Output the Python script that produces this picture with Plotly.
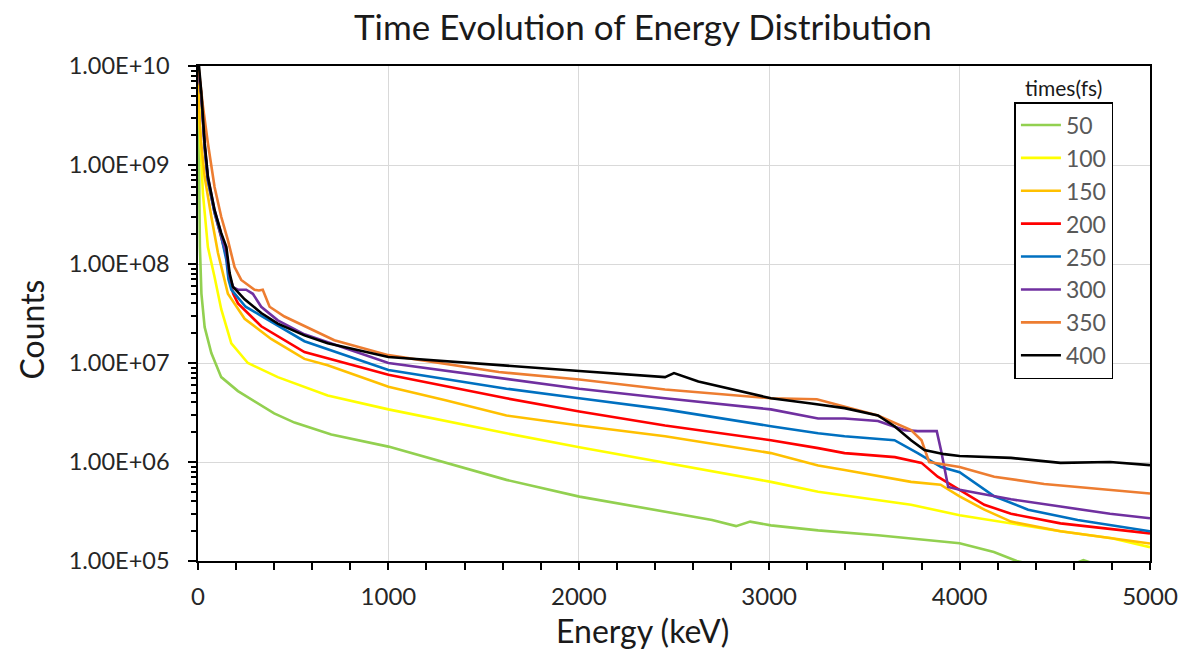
import plotly.graph_objects as go

# ---- data (energy in keV, counts) ----
e50 = [0, 2, 5, 10, 18, 35, 70, 122, 210, 300, 400, 507, 700, 1000, 1300, 1620, 2003, 2453, 2700, 2826, 2900, 3009, 3257, 3571, 4000, 4180, 4300, 4400, 4550, 4650, 4750, 5000]
c50 = [1e10, 3e9, 6e8, 1.5e8, 5e7, 2.3e7, 1.26e7, 7.2e6, 5.2e6, 4.1e6, 3.1e6, 2.5e6, 1.9e6, 1.43e6, 9.8e5, 6.6e5, 4.47e5, 3.16e5, 2.6e5, 2.25e5, 2.5e5, 2.29e5, 2.04e5, 1.82e5, 1.51e5, 1.23e5, 1.0e5, 9e4, 8.5e4, 1.02e5, 8.8e4, 7.5e4]

e100 = [0, 3, 9, 26, 52, 87, 122, 175, 262, 419, 559, 681, 1000, 1300, 1620, 2003, 2453, 3009, 3257, 3396, 3745, 4000, 4270, 4530, 4800, 5000]
c100 = [1e10, 5e9, 2.5e9, 5.1e8, 1.48e8, 7.4e7, 3.5e7, 1.58e7, 1e7, 7.2e6, 5.75e6, 4.7e6, 3.4e6, 2.6e6, 1.95e6, 1.41e6, 9.8e5, 6.3e5, 5.0e5, 4.6e5, 3.7e5, 2.9e5, 2.4e5, 2.0e5, 1.7e5, 1.38e5]

e150 = [0, 5, 15, 35, 70, 105, 157, 245, 384, 559, 681, 1000, 1300, 1620, 2003, 2453, 3009, 3257, 3396, 3745, 3900, 4000, 4130, 4270, 4530, 4706, 5000]
c150 = [1e10, 4e9, 1.8e9, 7.6e8, 3e8, 1.29e8, 5e7, 2.8e7, 1.75e7, 1.1e7, 9.5e6, 5.75e6, 4.2e6, 2.95e6, 2.34e6, 1.82e6, 1.23e6, 9.2e5, 8.3e5, 6.3e5, 5.9e5, 4.5e5, 3.3e5, 2.5e5, 2.0e5, 1.8e5, 1.5e5]

e200 = [0, 18, 35, 52, 87, 122, 149, 166, 185, 210, 332, 559, 1000, 1620, 2003, 2453, 3009, 3257, 3396, 3660, 3800, 3885, 4000, 4130, 4270, 4530, 5000]
c200 = [1e10, 5e9, 1.5e9, 7e8, 3.3e8, 1.9e8, 1.2e8, 7e7, 5e7, 4e7, 2.35e7, 1.29e7, 7.6e6, 4.4e6, 3.24e6, 2.34e6, 1.66e6, 1.38e6, 1.23e6, 1.12e6, 9.8e5, 7.1e5, 5.25e5, 3.7e5, 3.0e5, 2.4e5, 1.9e5]

e250 = [0, 18, 35, 52, 87, 122, 149, 160, 175, 250, 332, 559, 1000, 1620, 2003, 2453, 3009, 3257, 3396, 3658, 3780, 3903, 4000, 4090, 4182, 4360, 4620, 5000]
c250 = [1e10, 5e9, 1.5e9, 7e8, 3.3e8, 1.9e8, 1.1e8, 7e7, 5.5e7, 3.7e7, 3e7, 1.66e7, 8.5e6, 5.5e6, 4.4e6, 3.4e6, 2.3e6, 1.95e6, 1.82e6, 1.66e6, 1.23e6, 8.9e5, 7.9e5, 6e5, 4.5e5, 3.3e5, 2.6e5, 2.0e5]

e300 = [0, 18, 35, 52, 87, 122, 149, 166, 185, 210, 253, 288, 332, 419, 559, 1000, 1580, 2003, 2453, 3009, 3257, 3396, 3571, 3710, 3780, 3880, 3903, 3940, 4000, 4270, 4530, 4790, 5000]
c300 = [1e10, 5e9, 1.6e9, 7.5e8, 3.5e8, 2e8, 1.3e8, 7.5e7, 5.8e7, 5.5e7, 5.5e7, 5e7, 3.7e7, 2.7e7, 1.95e7, 1e7, 7.1e6, 5.5e6, 4.4e6, 3.4e6, 2.75e6, 2.75e6, 2.6e6, 2.1e6, 2.05e6, 2.05e6, 1.3e6, 5.6e5, 5.25e5, 4.2e5, 3.55e5, 3e5, 2.7e5]

e350 = [0, 10, 26, 52, 87, 122, 157, 192, 227, 297, 320, 340, 376, 454, 559, 716, 1000, 1580, 2003, 2453, 3009, 3250, 3571, 3745, 3800, 3840, 4000, 4182, 4444, 4706, 5000]
c350 = [1.1e10, 7e9, 3.9e9, 1.66e9, 6e8, 3e8, 1.74e8, 9.3e7, 6.9e7, 5.5e7, 5.4e7, 5.5e7, 3.7e7, 2.95e7, 2.35e7, 1.7e7, 1.2e7, 8.1e6, 6.8e6, 5.4e6, 4.4e6, 4.3e6, 2.95e6, 2.1e6, 1.66e6, 1.0e6, 8.9e5, 7.1e5, 6e5, 5.4e5, 4.8e5]

e400 = [0, 10, 18, 35, 52, 87, 122, 149, 166, 183, 245, 332, 419, 559, 681, 1000, 1620, 2003, 2453, 2500, 2628, 3009, 3221, 3396, 3571, 3658, 3745, 3815, 3920, 4000, 4270, 4530, 4790, 5000]
c400 = [1.3e10, 8e9, 5.2e9, 1.66e9, 7.6e8, 3.5e8, 2.05e8, 1.48e8, 8.1e7, 5.9e7, 4.4e7, 3.2e7, 2.5e7, 1.9e7, 1.58e7, 1.15e7, 9.5e6, 8.3e6, 7.2e6, 7.9e6, 6.5e6, 4.4e6, 3.9e6, 3.5e6, 2.95e6, 2.3e6, 1.66e6, 1.32e6, 1.2e6, 1.15e6, 1.1e6, 9.8e5, 1.0e6, 9.3e5]

series_names = ["50", "100", "150", "200", "250", "300", "350", "400"]
series_x = [e50, e100, e150, e200, e250, e300, e350, e400]
series_y = [c50, c100, c150, c200, c250, c300, c350, c400]
colors = ["#92D050", "#FFFF00", "#FFC000", "#FF0000", "#0070C0", "#7030A0", "#ED7D31", "#000000"]

y_tickvals = [1e5, 1e6, 1e7, 1e8, 1e9, 1e10]
y_ticktext = ["1.00E+05", "1.00E+06", "1.00E+07", "1.00E+08", "1.00E+09", "1.00E+10"]
x_tickvals = [0, 1000, 2000, 3000, 4000, 5000]

FONT = "Lato"
L, R, T, B = 198, 1153, 66, 561
PW, PH = R - L, B - T

fig = go.Figure()
for name, xs, ys, col in zip(series_names, series_x, series_y, colors):
    fig.add_trace(go.Scatter(x=xs, y=ys, mode="lines", name=name,
                             line=dict(color=col, width=2.6)))

fig.update_layout(
    width=1190, height=652,
    margin=dict(l=L, r=1190 - R, t=T, b=652 - B),
    paper_bgcolor="white", plot_bgcolor="white",
    font=dict(family=FONT, color="#262626"),
    showlegend=True,
    legend=dict(x=(1017 - L) / PW, y=(B - 102) / PH, xanchor="left", yanchor="top",
                font=dict(size=23, color="#595959", family=FONT),
                bordercolor="#000000", borderwidth=1.5, bgcolor="white",
                itemwidth=40),
    annotations=[
        dict(text="Time Evolution of Energy Distribution", xref="paper", yref="paper",
             x=(644 - L) / PW, y=1 + (T - 26) / PH, xanchor="center", yanchor="middle",
             showarrow=False, font=dict(size=35, color="#1a1a1a", family=FONT)),
        dict(text="Energy (keV)", xref="paper", yref="paper",
             x=(644 - L) / PW, y=-(630 - B) / PH, xanchor="center", yanchor="middle",
             showarrow=False, font=dict(size=32, color="#1a1a1a", family=FONT)),
        dict(text="Counts", xref="paper", yref="paper", textangle=-90,
             x=-(L - 30) / PW, y=(B - 330) / PH, xanchor="center", yanchor="middle",
             showarrow=False, font=dict(size=32, color="#1a1a1a", family=FONT)),
        dict(text="times(fs)", xref="paper", yref="paper",
             x=(1066 - L) / PW, y=(B - 87) / PH, xanchor="center", yanchor="middle",
             showarrow=False, font=dict(size=21, color="#1a1a1a", family=FONT)),
    ],
)

fig.update_xaxes(
    range=[0, 5000], tickmode="array", tickvals=x_tickvals,
    showline=True, linecolor="#000000", linewidth=1.5, mirror=True,
    ticks="outside", ticklen=7, tickcolor="#000000", tickwidth=1.5,
    showgrid=True, gridcolor="#d9d9d9", gridwidth=1,
    tickfont=dict(size=24, color="#262626", family=FONT),
    ticklabelstandoff=6,
    minor=dict(dtick=200, ticks="outside", ticklen=7, tickcolor="#000000", tickwidth=1.5, showgrid=False),
    zeroline=False,
)
fig.update_yaxes(
    type="log", range=[5, 10], tickmode="array", tickvals=y_tickvals, ticktext=y_ticktext,
    showline=True, linecolor="#000000", linewidth=1.5, mirror=True,
    ticks="outside", ticklen=8, tickcolor="#000000", tickwidth=1.5,
    showgrid=True, gridcolor="#d9d9d9", gridwidth=1,
    tickfont=dict(size=23.5, color="#262626", family=FONT),
    ticklabelstandoff=14,
    minor=dict(dtick="D1", ticks="outside", ticklen=5, tickcolor="#000000", tickwidth=1.5, showgrid=False),
    zeroline=False,
)

fig.write_html("out.html")
